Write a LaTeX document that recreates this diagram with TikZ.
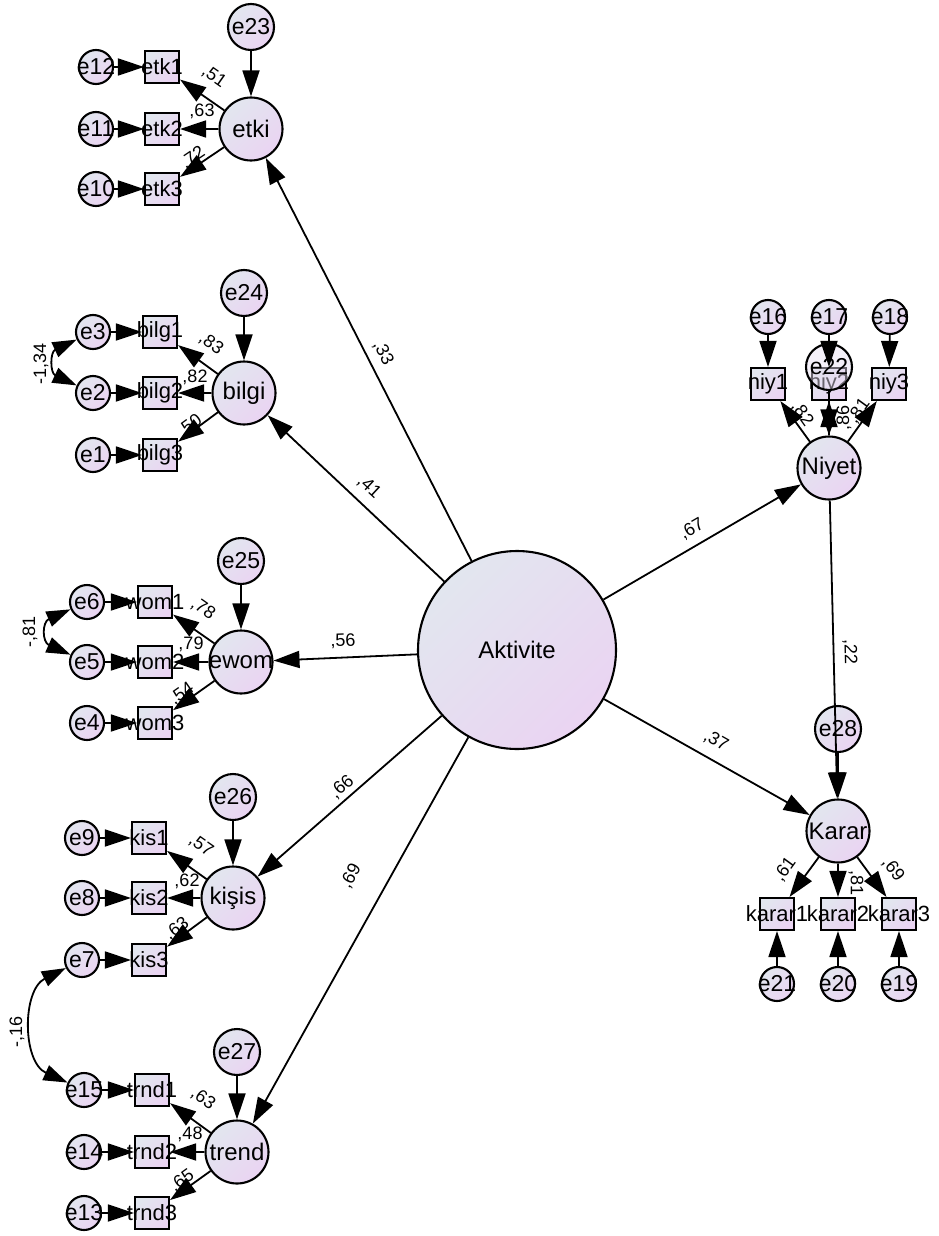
\documentclass[tikz,border=0pt]{standalone}
\usepackage{fontspec}
\setmainfont{Liberation Sans}
\usetikzlibrary{arrows.meta}

\definecolor{fillTL}{RGB}{226,230,239}
\definecolor{fillBR}{RGB}{234,212,242}
\definecolor{fillMid}{RGB}{230,221,241}
% zero-width box so that long names overflow their shapes instead of enlarging them
\newcommand{\ctr}[1]{\makebox[0pt]{#1}}

\tikzset{
  grad/.style={shading=axis, top color=fillTL, bottom color=fillBR, shading angle=45},
  latent/.style={circle, draw, line width=2.1pt, grad, minimum size=63pt, inner sep=0pt,
                 font=\fontsize{24}{24}\selectfont},
  reserr/.style={latent, minimum size=46pt, font=\fontsize{23}{23}\selectfont},
  mserr/.style={latent, minimum size=34pt, font=\fontsize{23}{23}\selectfont},
  obs/.style={rectangle, draw, line width=2.1pt, grad, minimum width=34pt, minimum height=32pt,
              inner sep=0pt, font=\fontsize{22}{22}\selectfont},
  reg/.style={line width=1.8pt, -{Triangle[length=26pt,width=17pt]}},
  cov/.style={line width=1.8pt, {Triangle[length=24pt,width=16pt]}-{Triangle[length=24pt,width=16pt]}},
  coef/.style={inner sep=0pt, font=\fontsize{18}{18}\selectfont},
}

\begin{document}
\begin{tikzpicture}[x=1pt, y=-1pt]
\useasboundingbox (0,0) rectangle (938,1236);

% exogenous construct
\node[latent, minimum size=198pt] (akt) at (517,650) {Aktivite};

% etki block
\node[reserr] (e23) at (251,27) {e23};
\node[latent] (etki) at (251,129) {\ctr{etki}};
\node[obs] (etk1) at (162,67) {\ctr{etk1}};
\node[obs] (etk2) at (162,129) {\ctr{etk2}};
\node[obs] (etk3) at (162,189) {\ctr{etk3}};
\node[mserr] (e12) at (96,67) {\ctr{e12}};
\node[mserr] (e11) at (96,129) {\ctr{e11}};
\node[mserr] (e10) at (96,189) {\ctr{e10}};

% bilgi block
\node[reserr] (e24) at (244,293) {e24};
\node[latent] (bilgi) at (244,393) {\ctr{bilgi}};
\node[obs] (bilg1) at (160,332) {\ctr{bilg1}};
\node[obs] (bilg2) at (160,393) {\ctr{bilg2}};
\node[obs] (bilg3) at (160,455) {\ctr{bilg3}};
\node[mserr] (e3) at (93,332) {\ctr{e3}};
\node[mserr] (e2) at (93,393) {\ctr{e2}};
\node[mserr] (e1) at (93,455) {\ctr{e1}};

% ewom block
\node[reserr] (e25) at (241,561) {e25};
\node[latent] (ewom) at (241,662) {\ctr{ewom}};
\node[obs] (wom1) at (155,602) {\ctr{wom1}};
\node[obs] (wom2) at (155,662) {\ctr{wom2}};
\node[obs] (wom3) at (155,723) {\ctr{wom3}};
\node[mserr] (e6) at (87,602) {\ctr{e6}};
\node[mserr] (e5) at (87,662) {\ctr{e5}};
\node[mserr] (e4) at (87,723) {\ctr{e4}};

% kisis block
\node[reserr] (e26) at (233,797) {e26};
\node[latent] (kisis) at (233,898) {\ctr{kişis}};
\node[obs] (kis1) at (149,838) {\ctr{kis1}};
\node[obs] (kis2) at (149,898) {\ctr{kis2}};
\node[obs] (kis3) at (149,960) {\ctr{kis3}};
\node[mserr] (e9) at (82,838) {\ctr{e9}};
\node[mserr] (e8) at (82,898) {\ctr{e8}};
\node[mserr] (e7) at (82,960) {\ctr{e7}};

% trend block
\node[reserr] (e27) at (237,1052) {e27};
\node[latent] (trend) at (237,1152) {\ctr{trend}};
\node[obs] (trnd1) at (152,1090) {\ctr{trnd1}};
\node[obs] (trnd2) at (152,1152) {\ctr{trnd2}};
\node[obs] (trnd3) at (152,1213) {\ctr{trnd3}};
\node[mserr] (e15) at (84,1090) {\ctr{e15}};
\node[mserr] (e14) at (84,1152) {\ctr{e14}};
\node[mserr] (e13) at (84,1213) {\ctr{e13}};

% Niyet block
\node[mserr] (e16) at (768,317) {\ctr{e16}};
\node[mserr] (e17) at (829,317) {\ctr{e17}};
\node[mserr] (e18) at (890,317) {\ctr{e18}};
\node[obs] (niy1) at (768,384) {\ctr{niy1}};
\node[obs] (niy2) at (829,384) {\ctr{niy2}};
\node[obs] (niy3) at (889,384) {\ctr{niy3}};
\node[circle, draw, line width=2.1pt, minimum size=46pt, inner sep=0pt,
      fill=fillMid, fill opacity=0.45, text opacity=1, draw opacity=1,
      font=\fontsize{23}{23}\selectfont] (e22) at (829,367) {e22};
\node[latent] (niyet) at (829,468) {\ctr{Niyet}};

% Karar block
\node[reserr] (e28) at (838,729) {e28};
\node[latent] (karar) at (838,831) {\ctr{Karar}};
\node[obs] (karar1) at (777,914) {\ctr{karar1}};
\node[obs] (karar2) at (838,914) {\ctr{karar2}};
\node[obs] (karar3) at (899,914) {\ctr{karar3}};
\node[mserr] (e21) at (777,984) {\ctr{e21}};
\node[mserr] (e20) at (838,984) {\ctr{e20}};
\node[mserr] (e19) at (899,984) {\ctr{e19}};

% structural paths
\draw[reg] (akt) -- (etki);
\draw[reg] (akt) -- (bilgi);
\draw[reg] (akt) -- (ewom);
\draw[reg] (akt) -- (kisis);
\draw[reg] (akt) -- (trend);
\draw[reg] (akt) -- (niyet);
\draw[reg] (akt) -- (karar);
\draw[reg] (niyet) -- (karar);

% measurement paths, left column
\foreach \lat/\res/\a/\b/\c/\ea/\eb/\ec in {
    etki/e23/etk1/etk2/etk3/e12/e11/e10,
    bilgi/e24/bilg1/bilg2/bilg3/e3/e2/e1,
    ewom/e25/wom1/wom2/wom3/e6/e5/e4,
    kisis/e26/kis1/kis2/kis3/e9/e8/e7,
    trend/e27/trnd1/trnd2/trnd3/e15/e14/e13}{
  \draw[reg] (\res) -- (\lat);
  \draw[reg] (\lat) -- (\a);
  \draw[reg] (\lat) -- (\b);
  \draw[reg] (\lat) -- (\c);
  \draw[reg] (\ea) -- (\a);
  \draw[reg] (\eb) -- (\b);
  \draw[reg] (\ec) -- (\c);
}

% measurement paths, right column
\draw[reg] (e16) -- (niy1);
\draw[reg] (e17) -- (niy2);
\draw[reg] (e18) -- (niy3);
\draw[reg] (niyet) -- (niy1);
\draw[reg] (niyet) -- (niy2);
\draw[reg] (niyet) -- (niy3);
\draw[reg] (e22) -- (niyet);
\draw[reg] (e28) -- (karar);
\draw[reg] (karar) -- (karar1);
\draw[reg] (karar) -- (karar2);
\draw[reg] (karar) -- (karar3);
\draw[reg] (e21) -- (karar1);
\draw[reg] (e20) -- (karar2);
\draw[reg] (e19) -- (karar3);

% error covariances
\draw[cov] (e3) .. controls (50,352) and (50,373) .. (e2);
\draw[cov] (e6) .. controls (42,622) and (42,642) .. (e5);
\draw[cov] (e7) .. controls (22,990) and (22,1062) .. (e15);
\node[coef, rotate=90] (k134) at (41,364) {-1,34};
\node[coef, rotate=90] (k81) at (30,632) {-,81};
\node[coef, rotate=90] (k16) at (17,1032) {-,16};

% structural coefficients
\node[coef, rotate=-63] (c33) at (383,353) {,33};
\node[coef, rotate=-43] (c41) at (369,487) {,41};
\node[coef, rotate=2] (c56) at (343,641) {,56};
\node[coef, rotate=41] (c66) at (342,787) {,66};
\node[coef, rotate=61] (c69) at (351,876) {,69};
\node[coef, rotate=30] (c67) at (692,529) {,67};
\node[coef, rotate=-29.5] (c37) at (716,741) {,37};
\node[coef, rotate=-89] (c22) at (850,652) {,22};

% loadings, left column
\node[coef, rotate=-35] (l51) at (214,77) {,51};
\node[coef] (l63a) at (202,111) {,63};
\node[coef, rotate=34] (l72) at (193,158) {,72};
\node[coef, rotate=-36] (l83) at (211,344) {,83};
\node[coef] (l82) at (195,377) {,82};
\node[coef, rotate=36] (l50) at (190,426) {,50};
\node[coef, rotate=-35] (l78) at (203,609) {,78};
\node[coef] (l79) at (191,644) {,79};
\node[coef, rotate=35] (l54) at (182,694) {,54};
\node[coef, rotate=-35] (l57) at (201,846) {,57};
\node[coef] (l62) at (187,881) {,62};
\node[coef, rotate=35] (l63b) at (177,929) {,63};
\node[coef, rotate=-36] (l63c) at (203,1099) {,63};
\node[coef] (l48) at (190,1134) {,48};
\node[coef, rotate=36] (l65) at (182,1181) {,65};

% loadings, right column
\node[coef, rotate=-54.5] (n82) at (802,414) {,82};
\node[coef, rotate=90] (n86) at (844,418) {,86};
\node[coef, rotate=54] (n81) at (859,411) {,81};
\node[coef, rotate=54] (k61) at (785,869) {,61};
\node[coef, rotate=-90] (k81b) at (856,883) {,81};
\node[coef, rotate=-53] (k69) at (893,869) {,69};
\end{tikzpicture}
\end{document}
